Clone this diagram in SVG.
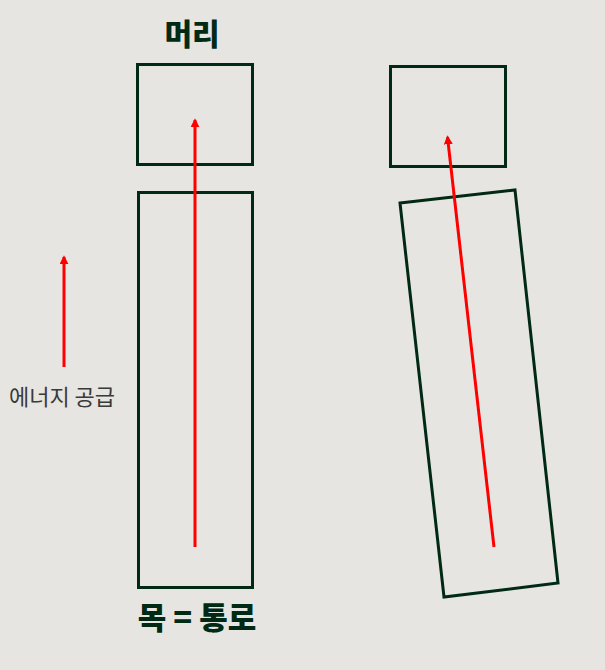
<svg xmlns="http://www.w3.org/2000/svg" width="605" height="670" viewBox="0 0 605 670">
<style>
.box{fill:none;stroke:#002a14;stroke-width:3}
.arr{stroke:#ff0000;stroke-width:3;fill:none}
.title{font-family:"Noto Sans CJK KR","Noto Sans",sans-serif;font-weight:900;fill:#002a14;text-anchor:middle}
.lbl{font-family:"Noto Sans CJK KR","Noto Sans",sans-serif;fill:#3a3a3a;font-size:22px;text-anchor:middle}
</style>
<defs>
<marker id="ah" viewBox="0 0 10 10" refX="8" refY="5" markerWidth="3" markerHeight="3" orient="auto" markerUnits="strokeWidth">
<path d="M0,0 L10,5 L0,10 Z" fill="#ff0000"/>
</marker>
</defs>
<rect width="605" height="670" fill="#e6e5e1"/>
<g id="left-head"><rect class="box" x="137.5" y="64.5" width="115" height="100"/></g>
<g id="left-neck"><rect class="box" x="138.5" y="192.5" width="114" height="395"/></g>
<g id="right-head"><rect class="box" x="390.5" y="66.5" width="115" height="100"/></g>
<g id="right-neck"><polygon class="box" points="400,203 515,190 558,583 444,597"/></g>
<g id="labels">
<text class="title" x="192" y="45" font-size="30">머리</text>
<text class="title" x="197" y="629" font-size="31">목 = 통로</text>
<text class="lbl" x="62" y="405">에너지 공급</text>
</g>
<g id="connectors">
<line class="arr" x1="195" y1="547" x2="195" y2="120" marker-end="url(#ah)"/>
<line class="arr" x1="494" y1="547" x2="447.5" y2="137" marker-end="url(#ah)"/>
<line class="arr" x1="64" y1="367" x2="64" y2="257" marker-end="url(#ah)"/>
</g>
</svg>
